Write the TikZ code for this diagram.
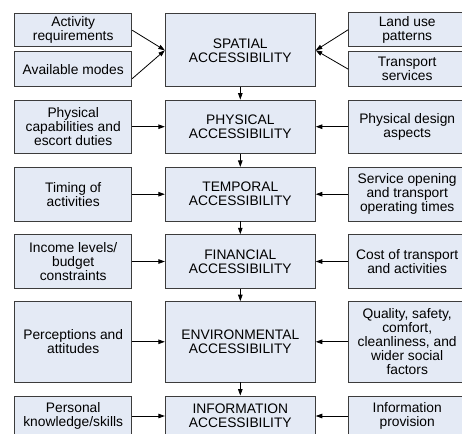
\documentclass[tikz,border=0pt]{standalone}
\usepackage{fontspec}
\setmainfont{Liberation Sans}
\usetikzlibrary{arrows.meta}
\definecolor{boxfill}{RGB}{228,234,245}
\definecolor{boxline}{RGB}{60,60,60}

\begin{document}
\begin{tikzpicture}[x=1pt,y=-1pt]
\tikzset{factor/.style = {shape=rectangle,draw=boxline,fill=boxfill,line width=.9pt,minimum width=117pt,inner sep=0pt,align=center,font=\fontsize{13.8}{14}\selectfont}}
\tikzset{access/.style = {factor,minimum width=150pt}}
\tikzset{edge/.style = {->,> = {Triangle[length=6.5pt,width=4.5pt]},line width=.8pt}}

\clip (0,0) rectangle (462,433);

% spatial
\node[factor,minimum height=32.5pt] (a) at (73.2,30.2) {Activity\\requirements};
\node[factor,minimum height=35pt] (m) at (73.2,69.2) {Available modes};
\node[access,minimum height=72.7pt] (s) at (240.3,50.3) {SPATIAL\\ACCESSIBILITY};
\node[factor,minimum height=33.5pt] (l) at (407.2,29.7) {Land use\\patterns};
\node[factor,minimum height=35pt] (t) at (407.2,69.2) {Transport\\services};

% physical
\node[factor,minimum height=53.3pt] (c) at (73.2,126.7) {Physical\\capabilities and\\escort duties};
\node[access,minimum height=53.3pt] (p) at (240.3,126.7) {PHYSICAL\\ACCESSIBILITY};
\node[factor,minimum height=53.3pt] (d) at (407.2,126.7) {Physical design\\aspects};

% temporal
\node[factor,minimum height=53.6pt] (g) at (73.2,194.2) {Timing of\\activities};
\node[access,minimum height=53.6pt] (r) at (240.3,194.2) {TEMPORAL\\ACCESSIBILITY};
\node[factor,minimum height=53.6pt] (o) at (407.2,194.2) {Service opening\\and transport\\operating times};

% financial
\node[factor,minimum height=53.6pt] (i) at (73.2,261.5) {Income levels/\\budget\\constraints};
\node[access,minimum height=53.6pt] (f) at (240.3,261.5) {FINANCIAL\\ACCESSIBILITY};
\node[factor,minimum height=53.6pt] (k) at (407.2,261.5) {Cost of transport\\and activities};

% environmental
\node[factor,minimum height=80.3pt] (u) at (73.2,341.8) {Perceptions and\\attitudes};
\node[access,minimum height=80.3pt] (e) at (240.3,341.8) {ENVIRONMENTAL\\ACCESSIBILITY};
\node[factor,minimum height=80.3pt] (q) at (407.2,341.8) {Quality, safety,\\comfort,\\cleanliness, and\\wider social\\factors};

% information
\node[factor,minimum height=40pt] (h) at (73.2,416) {Personal\\knowledge/skills};
\node[access,minimum height=40pt] (n) at (240.3,416) {INFORMATION\\ACCESSIBILITY};
\node[factor,minimum height=40pt] (v) at (407.2,416) {Information\\provision};

%edges
\draw[edge] (a.east) to (s.west);
\draw[edge] ([yshift=-9.5pt]m.east) to (s.west);
\draw[edge] (l.west) to (s.east);
\draw[edge] (t.west) to (s.east);

\draw[edge] (c) to (p);
\draw[edge] (d) to (p);
\draw[edge] (g) to (r);
\draw[edge] (o) to (r);
\draw[edge] (i) to (f);
\draw[edge] (k) to (f);
\draw[edge] (u) to (e);
\draw[edge] (q) to (e);
\draw[edge] (h) to (n);
\draw[edge] (v) to (n);

\draw[edge] (s) to (p);
\draw[edge] (p) to (r);
\draw[edge] (r) to (f);
\draw[edge] (f) to (e);
\draw[edge] (e) to (n);

\end{tikzpicture}
\end{document}
